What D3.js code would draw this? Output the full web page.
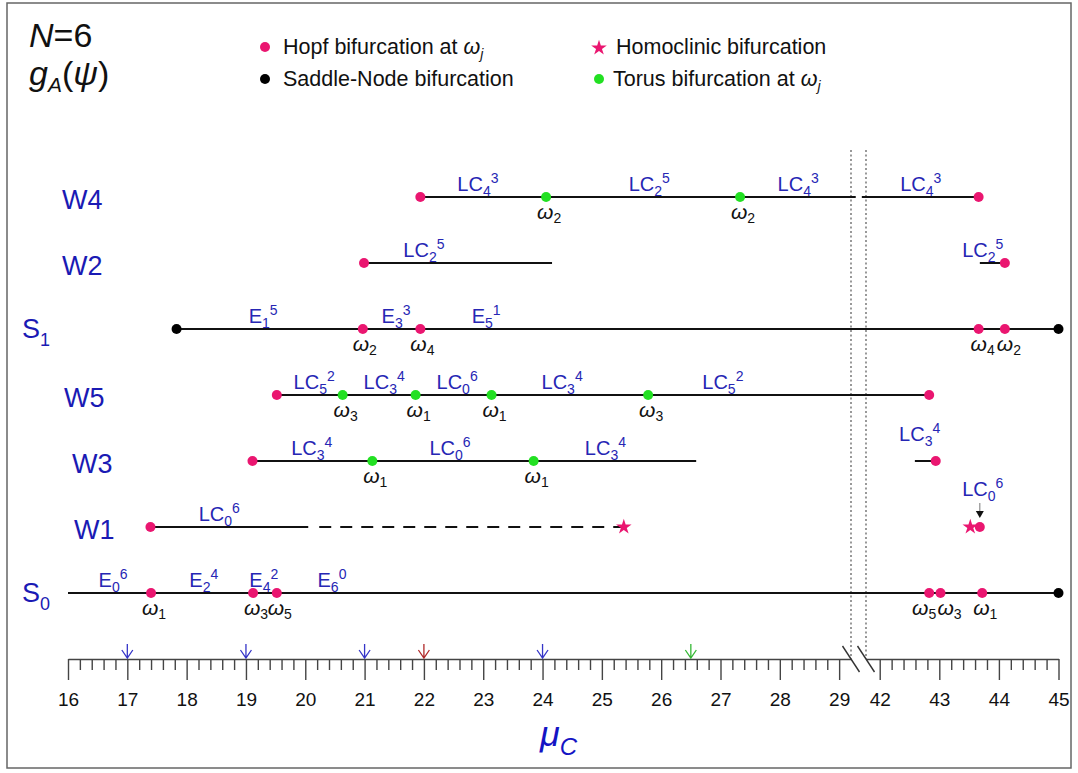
<!DOCTYPE html>
<html>
<head>
<meta charset="utf-8">
<script src="https://cdn.jsdelivr.net/npm/d3@7"></script>
<style>
  html, body { margin: 0; padding: 0; background: #fff; }
  svg { display: block; font-family: "Liberation Sans", Arial, sans-serif; }
</style>
</head>
<body>
<svg id="chart" width="1078" height="773"></svg>
<script>
// ---------------- DATA ----------------
const rowNames = ["W4", "W2", "S1", "W5", "W3", "W1", "S0"];
const rowLabelBase = ["W4", "W2", "S", "W5", "W3", "W1", "S"];
const rowLabelSub = ["", "", "1", "", "", "", "0"];

const leftTicks = [16, 17, 18, 19, 20, 21, 22, 23, 24, 25, 26, 27, 28, 29];
const rightTicks = [42, 43, 44, 45];

// [row, from μ, to μ]
const solidSegments = [
  ["W4", 21.94, 29.28], ["W4", 41.70, 43.66],
  ["W2", 20.99, 24.16], ["W2", 43.68, 44.10],
  ["S1", 17.83, 45.00],
  ["W5", 19.52, 42.83],
  ["W3", 19.11, 26.59], ["W3", 42.59, 42.94],
  ["W1", 17.39, 20.05],
  ["S0", 16.00, 45.00]
];
const dashedSegments = [["W1", 20.05, 25.37]];

const hopfPoints = [
  ["W4", 21.94], ["W4", 43.66],
  ["W2", 20.99], ["W2", 44.10],
  ["S1", 20.97], ["S1", 21.94], ["S1", 43.66], ["S1", 44.10],
  ["W5", 19.52], ["W5", 42.83],
  ["W3", 19.11], ["W3", 42.94],
  ["W1", 17.39], ["W1", 43.68],
  ["S0", 17.40], ["S0", 19.12], ["S0", 19.52], ["S0", 42.83], ["S0", 43.02], ["S0", 43.72]
];
const torusPoints = [
  ["W4", 24.06], ["W4", 27.33],
  ["W5", 20.63], ["W5", 21.86], ["W5", 23.14], ["W5", 25.78],
  ["W3", 21.13], ["W3", 23.85]
];
const saddlePoints = [["S1", 17.83], ["S1", 45.00], ["S0", 45.00]];
const homoclinicPoints = [["W1", 25.37], ["W1", 43.52]];

// [row, μ, subscript j]
const omegaLabels = [
  ["W4", 24.06, "2"], ["W4", 27.33, "2"],
  ["S1", 20.97, "2"], ["S1", 21.94, "4"], ["S1", 43.66, "4"], ["S1", 44.10, "2"],
  ["W5", 20.63, "3"], ["W5", 21.86, "1"], ["W5", 23.14, "1"], ["W5", 25.78, "3"],
  ["W3", 21.13, "1"], ["W3", 23.85, "1"],
  ["S0", 17.40, "1"], ["S0", 19.12, "3"], ["S0", 19.52, "5"],
  ["S0", 42.83, "5"], ["S0", 43.02, "3"], ["S0", 43.72, "1"]
];

// [row, μ centre, base, sub, sup]
const regionLabels = [
  ["W4", 22.91, "LC", "4", "3"], ["W4", 25.80, "LC", "2", "5"], ["W4", 28.31, "LC", "4", "3"], ["W4", 42.69, "LC", "4", "3"],
  ["W2", 22.00, "LC", "2", "5"], ["W2", 43.73, "LC", "2", "5"],
  ["S1", 19.29, "E", "1", "5"], ["S1", 21.53, "E", "3", "3"], ["S1", 23.05, "E", "5", "1"],
  ["W5", 20.15, "LC", "5", "2"], ["W5", 21.33, "LC", "3", "4"], ["W5", 22.56, "LC", "0", "6"], ["W5", 24.33, "LC", "3", "4"], ["W5", 27.04, "LC", "5", "2"],
  ["W3", 20.11, "LC", "3", "4"], ["W3", 22.44, "LC", "0", "6"], ["W3", 25.06, "LC", "3", "4"], ["W3", 42.67, "LC", "3", "4"],
  ["W1", 18.55, "LC", "0", "6"], ["W1", 43.73, "LC", "0", "6"],
  ["S0", 16.76, "E", "0", "6"], ["S0", 18.29, "E", "2", "4"], ["S0", 19.30, "E", "4", "2"], ["S0", 20.45, "E", "6", "0"]
];

// arrows above the axis: [μ, colour]
const axisArrows = [[17, "#3535c8"], [19, "#3535c8"], [21, "#3535c8"], [22, "#b02a2a"], [24, "#3535c8"], [26.5, "#35b835"]];

// ---------------- LAYOUT / STYLE ----------------
const HOPF = "#ea1670", TORUS = "#22e022", LBL = "#2626b4", ROWC = "#1a1ab4";
const svg = d3.select("#chart");

const xL = d3.scaleLinear().domain([16, 29.2]).range([68, 851]);
const xR = d3.scaleLinear().domain([41.77, 45]).range([866, 1058.5]);
const X = m => (m < 35 ? xL(m) : xR(m));
const Y = d3.scalePoint().domain(rowNames).range([197, 593]);
const axisY = 659;

// frame
svg.append("rect").attr("x", 7).attr("y", 3).attr("width", 1064).attr("height", 765)
  .attr("fill", "none").attr("stroke", "#666").attr("stroke-width", 1.5);

// title texts
const t1 = svg.append("text").attr("x", 29).attr("y", 47).attr("font-size", 34).attr("fill", "#111");
t1.append("tspan").attr("font-style", "italic").text("N");
t1.append("tspan").text("=6");
const t2 = svg.append("text").attr("x", 29).attr("y", 85).attr("font-size", 34).attr("fill", "#111");
t2.append("tspan").attr("font-style", "italic").text("g");
t2.append("tspan").attr("font-style", "italic").attr("font-size", 21).attr("dy", 7).text("A");
t2.append("tspan").attr("dy", -7).text("(");
t2.append("tspan").attr("font-style", "italic").text("ψ");
t2.append("tspan").text(")");

// legend
function legendText(x, y, main, omega) {
  const t = svg.append("text").attr("x", x).attr("y", y).attr("font-size", 21.5).attr("fill", "#111");
  t.append("tspan").text(main);
  if (omega) {
    t.append("tspan").attr("font-style", "italic").text("ω");
    t.append("tspan").attr("font-style", "italic").attr("font-size", 14).attr("dy", 5).text("j");
  }
}
svg.append("circle").attr("cx", 265).attr("cy", 47).attr("r", 5).attr("fill", HOPF);
legendText(283, 54, "Hopf bifurcation at ", true);
svg.append("circle").attr("cx", 265).attr("cy", 79).attr("r", 5).attr("fill", "#000");
legendText(283, 86, "Saddle-Node bifurcation", false);
svg.append("path").attr("d", d3.symbol(d3.symbolStar).size(75)()).attr("transform", "translate(599,48)").attr("fill", HOPF);
legendText(616, 54, "Homoclinic bifurcation", false);
svg.append("circle").attr("cx", 599).attr("cy", 79).attr("r", 5).attr("fill", TORUS);
legendText(613, 86, "Torus bifurcation at ", true);

// dotted break guides
[xL(29.2), xR(41.77)].forEach(x => {
  svg.append("line").attr("x1", x).attr("x2", x).attr("y1", 150).attr("y2", axisY)
    .attr("stroke", "#555").attr("stroke-width", 1.2).attr("stroke-dasharray", "2,2.5");
});

// row labels
const rowLabelX = { W4: 62, W2: 62, S1: 22, W5: 64, W3: 72, W1: 74, S0: 22 };
rowNames.forEach((r, i) => {
  const isS = rowLabelSub[i] !== "";
  const t = svg.append("text").attr("x", rowLabelX[r]).attr("y", Y(r) + (isS ? 9 : 12))
    .attr("font-size", 27).attr("fill", ROWC);
  t.append("tspan").text(rowLabelBase[i]);
  if (isS) t.append("tspan").attr("font-size", 18).attr("dy", 8).text(rowLabelSub[i]);
});

// segments
const gl = svg.append("g");
gl.selectAll("line.solid").data(solidSegments).join("line").attr("class", "solid")
  .attr("x1", d => X(d[1])).attr("x2", d => X(d[2]))
  .attr("y1", d => Y(d[0])).attr("y2", d => Y(d[0]))
  .attr("stroke", "#111").attr("stroke-width", 2);
gl.selectAll("line.dash").data(dashedSegments).join("line").attr("class", "dash")
  .attr("x1", d => X(d[1]) + 11).attr("x2", d => X(d[2]))
  .attr("y1", d => Y(d[0])).attr("y2", d => Y(d[0]))
  .attr("stroke", "#111").attr("stroke-width", 2).attr("stroke-dasharray", "12,9");

// region labels
const labelLift = { 17: 14, 19: 25 };
regionLabels.forEach((d, i) => {
  const t = svg.append("text").attr("x", X(d[1])).attr("y", Y(d[0]) - 6 - (labelLift[i] || 0))
    .attr("text-anchor", "middle").attr("font-size", 20).attr("fill", LBL);
  t.append("tspan").text(d[2]);
  t.append("tspan").attr("font-size", 14).attr("dy", 5).text(d[3]);
  t.append("tspan").attr("font-size", 14).attr("dy", -13).text(d[4]);
});

// small arrow on the right W1 label
{
  const ax = X(43.68), ay = Y("W1");
  svg.append("line").attr("x1", ax).attr("x2", ax).attr("y1", ay - 24).attr("y2", ay - 16)
    .attr("stroke", "#777").attr("stroke-width", 1);
  svg.append("path").attr("d", `M${ax - 4},${ay - 16}L${ax + 4},${ay - 16}L${ax},${ay - 9}Z`).attr("fill", "#111");
}

// omega labels
const omegaDx = { 15: -5, 16: 9, 2: 2, 3: 2, 4: 4, 5: 4 };
omegaLabels.forEach((d, i) => {
  const t = svg.append("text").attr("x", X(d[1]) + (omegaDx[i] !== undefined ? omegaDx[i] : 3)).attr("y", Y(d[0]) + 22)
    .attr("text-anchor", "middle").attr("font-size", 21).attr("fill", "#111");
  t.append("tspan").attr("font-style", "italic").text("ω");
  t.append("tspan").attr("font-size", 14).attr("dy", 4).text(d[2]);
});

// markers
svg.selectAll("circle.hopf").data(hopfPoints).join("circle").attr("class", "hopf")
  .attr("cx", d => X(d[1])).attr("cy", d => Y(d[0])).attr("r", 5).attr("fill", HOPF);
svg.selectAll("circle.torus").data(torusPoints).join("circle").attr("class", "torus")
  .attr("cx", d => X(d[1])).attr("cy", d => Y(d[0])).attr("r", 5).attr("fill", TORUS);
svg.selectAll("circle.sn").data(saddlePoints).join("circle").attr("class", "sn")
  .attr("cx", d => X(d[1])).attr("cy", d => Y(d[0])).attr("r", 5).attr("fill", "#000");
svg.selectAll("path.homo").data(homoclinicPoints).join("path").attr("class", "homo")
  .attr("d", d3.symbol(d3.symbolStar).size(75)())
  .attr("transform", d => `translate(${X(d[1])},${Y(d[0])})`).attr("fill", HOPF);

// axes
function minorTicks(a, b) { const out = []; for (let v = a * 5; v <= b * 5; v++) if (v % 5 !== 0) out.push(v / 5); return out; }
function drawAxis(scale, majors, minors) {
  const g = svg.append("g").attr("transform", `translate(0,${axisY})`);
  g.call(d3.axisBottom(scale).tickValues(minors).tickSize(11).tickSizeOuter(0).tickFormat(""));
  const g2 = svg.append("g").attr("transform", `translate(0,${axisY})`);
  g2.call(d3.axisBottom(scale).tickValues(majors).tickSize(21).tickSizeOuter(0).tickFormat(d3.format("d")));
  g2.select(".domain").remove();
  [g, g2].forEach(gg => {
    gg.selectAll(".domain").attr("stroke", "#444").attr("stroke-width", 1.5);
    gg.selectAll(".tick line").attr("stroke", "#444").attr("stroke-width", 1.4);
  });
  g2.selectAll(".tick text").attr("y", 34).attr("font-size", 19).attr("fill", "#111")
    .attr("font-family", "Liberation Sans, Arial, sans-serif");
}
drawAxis(xL, leftTicks, minorTicks(16, 29));
drawAxis(xR, rightTicks, minorTicks(42, 45));

// break marks
[xL(29.2), xR(41.77)].forEach(x => {
  svg.append("line").attr("x1", x - 8.5).attr("y1", axisY - 13).attr("x2", x + 8.5).attr("y2", axisY + 13)
    .attr("stroke", "#333").attr("stroke-width", 1.4);
});

// arrows above axis
axisArrows.forEach(([m, c]) => {
  const x = X(m);
  svg.append("path").attr("d", `M${x},${axisY - 15}L${x},${axisY - 1}M${x - 5.5},${axisY - 9}L${x},${axisY - 1}L${x + 5.5},${axisY - 9}`)
    .attr("fill", "none").attr("stroke", c).attr("stroke-width", 1.3);
});

// axis title
const at = svg.append("text").attr("x", 540).attr("y", 746).attr("font-size", 36).attr("fill", "#1414c4");
at.append("tspan").attr("font-style", "italic").text("μ");
at.append("tspan").attr("font-style", "italic").attr("font-size", 24).attr("dy", 9).text("C");
</script>
</body>
</html>
